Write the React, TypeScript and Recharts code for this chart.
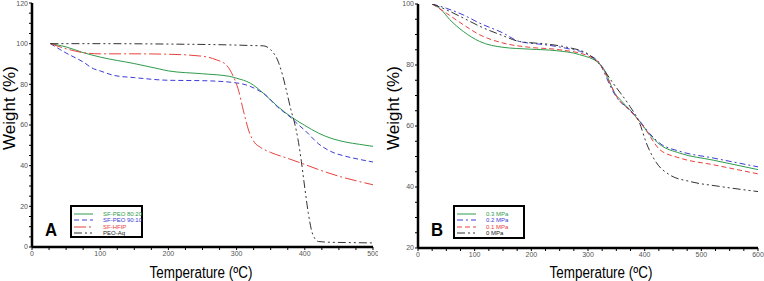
import React from 'react';
import { LineChart, Line, XAxis, YAxis } from 'recharts';

// ---------- Panel A data ----------
const tA_8020 = [27, 50, 75, 100, 150, 185, 200, 250, 290, 300, 320, 340, 360, 380, 400, 420, 440, 460, 480, 500];
const wA_8020 = [100, 98.4, 95.6, 93.4, 90.2, 87.7, 86.6, 85.2, 83.9, 83, 80.6, 75.4, 69.2, 64, 59.8, 56, 53.3, 51.6, 50.5, 49.5];

const tA_9010 = [27, 50, 75, 90, 100, 120, 150, 200, 250, 300, 320, 330, 340, 360, 380, 390, 400, 420, 440, 460, 480, 500];
const wA_9010 = [100, 95.4, 91, 87.7, 86.6, 84.4, 83.3, 82, 81.8, 80.7, 79, 77.4, 75.4, 68.9, 63.5, 60.3, 57.4, 50.8, 46.7, 44.6, 43.1, 41.8];

const tA_hfip = [27, 50, 75, 100, 150, 200, 250, 270, 285, 295, 302, 310, 318, 326, 335, 350, 375, 400, 425, 450, 475, 500];
const wA_hfip = [100, 97.5, 95.6, 95, 95, 94.8, 93.8, 92.1, 89.5, 84, 78, 67, 57, 51.5, 49, 46.5, 43.6, 40.6, 37.5, 34.8, 32.6, 30.6];

const tA_peo = [27, 100, 200, 300, 320, 340, 350, 360, 367, 373, 380, 385, 390, 395, 400, 405, 410, 415, 420, 440, 460, 500];
const wA_peo = [100, 100, 99.8, 99.3, 99.1, 98.9, 97, 92, 85, 77, 67, 61, 53, 42, 29, 17, 8, 4, 2.7, 2.3, 2.2, 2];

// ---------- Panel B data ----------
const tB_03 = [25, 40, 56, 80, 109, 150, 197, 244, 285, 320, 330, 338, 344, 360, 374, 391, 409, 427, 462, 521, 600];
const wB_03 = [100, 98.3, 94.9, 91, 87.7, 85.8, 85.2, 84.7, 83.4, 80.5, 78, 74.5, 71.9, 68, 65.3, 61.5, 57.1, 53.9, 51.1, 48.8, 45.7];

const tB_02 = [25, 50, 80, 109, 150, 179, 226, 261, 300, 320, 330, 340, 350, 374, 391, 409, 427, 462, 521, 600];
const wB_02 = [100, 98.6, 96.4, 93.7, 90.5, 87.7, 86.6, 85.5, 83.4, 80.7, 77, 72.8, 69.5, 65.3, 61.7, 57.5, 54.3, 51.7, 49.5, 46.6];

const tB_01 = [25, 50, 80, 109, 150, 197, 250, 300, 320, 330, 340, 350, 374, 391, 403, 415, 427, 462, 521, 600];
const wB_01 = [100, 97, 93.2, 89.9, 87.2, 85.8, 85, 83, 80.6, 77.4, 73.6, 69.8, 65, 61.5, 58.5, 55, 52.2, 49.5, 47.3, 44.3];

const tB_0 = [25, 50, 80, 109, 150, 179, 226, 261, 300, 321, 344, 374, 391, 403, 421, 444, 480, 532, 600];
const wB_0 = [100, 98.1, 95.4, 92.7, 89.6, 87.7, 86.9, 85.9, 83.6, 80.1, 74.1, 66.4, 61, 54.4, 47.9, 44, 41.8, 40.2, 38.5];

// ---------- Ticks ----------
const xTicksA = [0, 25, 50, 75, 100, 125, 150, 175, 200, 225, 250, 275, 300, 325, 350, 375, 400, 425, 450, 475, 500];
const yTicksA = [0, 5, 10, 15, 20, 25, 30, 35, 40, 45, 50, 55, 60, 65, 70, 75, 80, 85, 90, 95, 100, 105, 110, 115, 120];
const xTicksB = [0, 25, 50, 75, 100, 125, 150, 175, 200, 225, 250, 275, 300, 325, 350, 375, 400, 425, 450, 475, 500, 525, 550, 575, 600];
const yTicksB = [20, 25, 30, 35, 40, 45, 50, 55, 60, 65, 70, 75, 80, 85, 90, 95, 100];

const namesA = ['SF-PEO 80:20', 'SF-PEO 90:10', 'SF-HFIP', 'PEO-Aq'];
const namesB = ['0.3 MPa', '0.2 MPa', '0.1 MPa', '0 MPa'];

const zip = (t: number[], w: number[]) => t.map((v, i) => ({ t: v, w: w[i] }));

const GREEN = '#2e9b4c';
const BLUE = '#3c3cd6';
const RED = '#e8413c';
const BLACK = '#333333';

const seriesA = [
  { name: namesA[0], data: zip(tA_8020, wA_8020), color: GREEN, dash: undefined as string | undefined, text: GREEN },
  { name: namesA[1], data: zip(tA_9010, wA_9010), color: BLUE, dash: '5 3', text: BLUE },
  { name: namesA[2], data: zip(tA_hfip, wA_hfip), color: RED, dash: '12 3 2 3', text: RED },
  { name: namesA[3], data: zip(tA_peo, wA_peo), color: BLACK, dash: '8 3 2 3 2 3', text: '#222' },
];
const seriesB = [
  { name: namesB[0], data: zip(tB_03, wB_03), color: GREEN, dash: undefined as string | undefined, text: GREEN },
  { name: namesB[1], data: zip(tB_02, wB_02), color: BLUE, dash: '6 3 2 3', text: BLUE },
  { name: namesB[2], data: zip(tB_01, wB_01), color: RED, dash: '5 3', text: RED },
  { name: namesB[3], data: zip(tB_0, wB_0), color: BLACK, dash: '8 3 2 3 2 3', text: '#222' },
];

const FONT = '"Liberation Sans", Arial, sans-serif';
const tickStyle = { fill: '#555', fontSize: 7, fontFamily: FONT };
const AX = { stroke: '#000', strokeWidth: 2.5 };

type S = typeof seriesA;

function LegendBox({ items, left, top, width, height }: { items: S; left: number; top: number; width: number; height: number }) {
  return (
    <div
      style={{
        position: 'absolute', left, top, width, height, border: '2px solid #000', boxSizing: 'border-box',
        background: '#fff', fontFamily: FONT,
      }}
    >
      {items.map((s, i) => (
        <div key={s.name} style={{ position: 'absolute', left: 0, top: 3.5 + i * 6.5, height: 6, width: '100%' }}>
          <svg width={22} height={6} style={{ position: 'absolute', left: 1, top: 0 }}>
            <line x1={1} y1={3} x2={20} y2={3} stroke={s.color} strokeWidth={1} strokeDasharray={s.dash} />
          </svg>
          <span style={{ position: 'absolute', left: 31, top: -1, fontSize: 6, lineHeight: '8px', color: s.text, whiteSpace: 'nowrap' }}>
            {s.name}
          </span>
        </div>
      ))}
    </div>
  );
}

function Panel({ series, xTicks, yTicks, xMax, yMin, yMax, width, yAxisWidth, margin }: any) {
  return (
    <LineChart width={width} height={281} margin={margin}>
      <XAxis
        xAxisId={0} dataKey="t" type="number" domain={[0, xMax]} ticks={xTicks} allowDataOverflow
        tickFormatter={(v: number) => (v % 100 === 0 ? String(v) : '')}
        tick={tickStyle} tickSize={3} tickMargin={1} height={14} axisLine={AX} tickLine={{ stroke: '#000' }}
        interval={0}
      />
      <XAxis xAxisId="top" orientation="top" type="number" domain={[0, xMax]} height={0} tick={false} tickLine={false} axisLine={AX} />
      <YAxis
        yAxisId={0} type="number" domain={[yMin, yMax]} ticks={yTicks} allowDataOverflow
        tickFormatter={(v: number) => (v % 20 === 0 ? String(v) : '')}
        tick={tickStyle} tickSize={3} tickMargin={1} width={yAxisWidth} axisLine={AX} tickLine={{ stroke: '#000' }}
        interval={0}
      />
      <YAxis yAxisId="r" orientation="right" type="number" domain={[yMin, yMax]} width={0} tick={false} tickLine={false} axisLine={AX} />
      {series.map((s: any) => (
        <Line
          key={s.name} xAxisId={0} yAxisId={0} data={s.data} dataKey="w" type="monotone" stroke={s.color}
          strokeWidth={1} strokeDasharray={s.dash} dot={false} isAnimationActive={false}
        />
      ))}
    </LineChart>
  );
}

const titleX = (left: number): React.CSSProperties => ({
  position: 'absolute', left: left - 80, top: 265, width: 160, textAlign: 'center', fontFamily: FONT,
  fontSize: 16, lineHeight: '16px', color: '#000', transform: 'scaleX(0.84)', whiteSpace: 'nowrap',
});
const titleY = (cx: number, cy: number): React.CSSProperties => ({
  position: 'absolute', left: cx - 60, top: cy - 9, width: 120, height: 18, textAlign: 'center', fontFamily: FONT,
  fontSize: 17, lineHeight: '18px', color: '#000', transform: 'rotate(-90deg)', whiteSpace: 'nowrap',
});
const bigLetter = (left: number): React.CSSProperties => ({
  position: 'absolute', left, top: 220, fontFamily: FONT, fontWeight: 'bold', fontSize: 19, lineHeight: '19px',
  color: '#000', transform: 'scaleX(0.88)', transformOrigin: 'left top',
});

export default function App() {
  return (
    <div style={{ position: 'absolute', left: 0, top: 0, width: 764, height: 281, background: '#fff', overflow: 'hidden' }}>
      <div style={{ position: 'absolute', left: 0, top: 0 }}>
        <Panel series={seriesA} xTicks={xTicksA} yTicks={yTicksA} xMax={500} yMin={0} yMax={120}
          width={378} yAxisWidth={32} margin={{ top: 3, right: 5, bottom: 20, left: 0 }} />
      </div>
      <div style={{ position: 'absolute', left: 380, top: 0 }}>
        <Panel series={seriesB} xTicks={xTicksB} yTicks={yTicksB} xMax={600} yMin={20} yMax={100}
          width={384} yAxisWidth={38} margin={{ top: 4, right: 6, bottom: 19, left: 0 }} />
      </div>
      <LegendBox items={seriesA} left={70} top={205} width={73} height={33} />
      <LegendBox items={seriesB} left={453} top={205} width={72} height={34} />
      <div style={bigLetter(45)}>A</div>
      <div style={bigLetter(431)}>B</div>
      <div style={titleX(201)}>Temperature (ºC)</div>
      <div style={titleX(601)}>Temperature (ºC)</div>
      <div style={titleY(9.5, 108)}>Weight (%)</div>
      <div style={titleY(394, 108)}>Weight (%)</div>
    </div>
  );
}
